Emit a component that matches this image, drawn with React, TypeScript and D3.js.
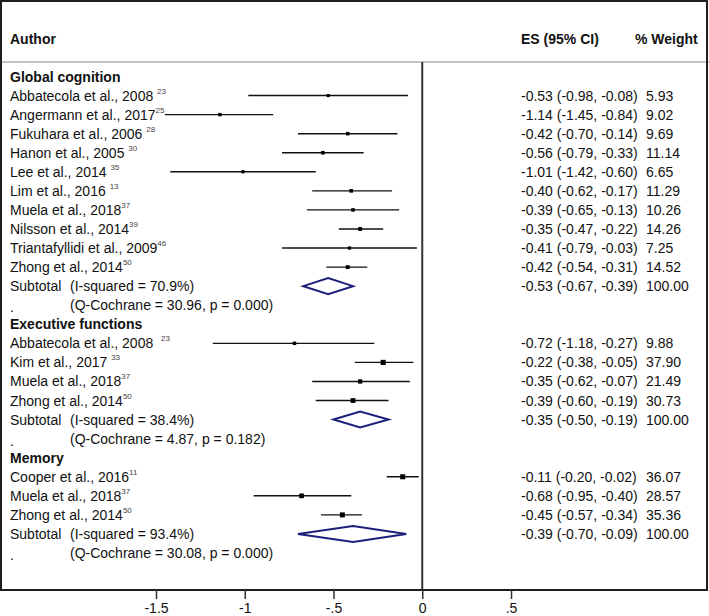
import * as d3 from 'd3';
import React, { useRef, useEffect } from 'react';

// study rows per subgroup: label, reference, separator before reference, ES, CI, weight
const globalStudies = [
  { author: 'Abbatecola et al., 2008', sep: ' ', ref: '23', es: -0.53, lo: -0.98, hi: -0.08, w: 5.93 },
  { author: 'Angermann et al., 2017', sep: '', ref: '25', es: -1.14, lo: -1.45, hi: -0.84, w: 9.02 },
  { author: 'Fukuhara et al., 2006', sep: ' ', ref: '28', es: -0.42, lo: -0.70, hi: -0.14, w: 9.69 },
  { author: 'Hanon et al., 2005', sep: ' ', ref: '30', es: -0.56, lo: -0.79, hi: -0.33, w: 11.14 },
  { author: 'Lee et al., 2014', sep: ' ', ref: '35', es: -1.01, lo: -1.42, hi: -0.60, w: 6.65 },
  { author: 'Lim et al., 2016', sep: ' ', ref: '13', es: -0.40, lo: -0.62, hi: -0.17, w: 11.29 },
  { author: 'Muela et al., 2018', sep: '', ref: '37', es: -0.39, lo: -0.65, hi: -0.13, w: 10.26 },
  { author: 'Nilsson et al., 2014', sep: '', ref: '39', es: -0.35, lo: -0.47, hi: -0.22, w: 14.26 },
  { author: 'Triantafyllidi et al., 2009', sep: '', ref: '46', es: -0.41, lo: -0.79, hi: -0.03, w: 7.25 },
  { author: 'Zhong et al., 2014', sep: '', ref: '50', es: -0.42, lo: -0.54, hi: -0.31, w: 14.52 },
];

const executiveStudies = [
  { author: 'Abbatecola et al., 2008', sep: '  ', ref: '23', es: -0.72, lo: -1.18, hi: -0.27, w: 9.88 },
  { author: 'Kim et al., 2017', sep: ' ', ref: '33', es: -0.22, lo: -0.38, hi: -0.05, w: 37.90 },
  { author: 'Muela et al., 2018', sep: '', ref: '37', es: -0.35, lo: -0.62, hi: -0.07, w: 21.49 },
  { author: 'Zhong et al., 2014', sep: '', ref: '50', es: -0.39, lo: -0.60, hi: -0.19, w: 30.73 },
];

const memoryStudies = [
  { author: 'Cooper et al., 2016', sep: '', ref: '11', es: -0.11, lo: -0.20, hi: -0.02, w: 36.07 },
  { author: 'Muela et al., 2018', sep: '', ref: '37', es: -0.68, lo: -0.95, hi: -0.40, w: 28.57 },
  { author: 'Zhong et al., 2014', sep: '', ref: '50', es: -0.45, lo: -0.57, hi: -0.34, w: 35.36 },
];

const groupNames = ['Global cognition', 'Executive functions', 'Memory'];
const groupStudies = [globalStudies, executiveStudies, memoryStudies];
const subtotalES = [-0.53, -0.35, -0.39];
const subtotalLo = [-0.67, -0.50, -0.70];
const subtotalHi = [-0.39, -0.19, -0.09];
const iSquared = ['70.9', '38.4', '93.4'];
const qCochrane = ['30.96', '4.87', '30.08'];
const pValues = ['0.000', '0.182', '0.000'];

const tickValues = [-1.5, -1, -0.5, 0, 0.5];
const tickLabels = ['-1.5', '-1', '-.5', '0', '.5'];

const width = 709;
const height = 616;
const font = '"Liberation Sans", Arial, Helvetica, sans-serif';

const ForestPlot = () => {
  const ref = useRef(null);

  useEffect(() => {
    const svg = d3.select(ref.current);
    svg.selectAll('*').remove();

    // flatten into rows
    const rows: any[] = [];
    groupNames.forEach((g, gi) => {
      rows.push({ type: 'group', label: g });
      groupStudies[gi].forEach((s) => rows.push({ type: 'study', ...s }));
      rows.push({
        type: 'subtotal', es: subtotalES[gi], lo: subtotalLo[gi], hi: subtotalHi[gi],
        i2: iSquared[gi], w: 100,
      });
      rows.push({ type: 'q', q: qCochrane[gi], p: pValues[gi] });
    });

    const x = d3.scaleLinear().domain([-1.5, 0.5]).range([156, 511]);
    const y = d3.scalePoint().domain(d3.range(rows.length)).range([76.5, 553]);
    const boxSize = d3.scaleSqrt().domain([5, 40]).range([3, 5.2]);

    const plotBottom = 590;

    // header separator
    svg.append('line')
      .attr('x1', 0).attr('x2', width)
      .attr('y1', 62).attr('y2', 62)
      .attr('stroke', '#c4c4c4').attr('stroke-width', 2);

    // zero line
    svg.append('line')
      .attr('x1', x(0)).attr('x2', x(0))
      .attr('y1', 62).attr('y2', plotBottom)
      .attr('stroke', '#333').attr('stroke-width', 2);

    // frame
    svg.append('rect')
      .attr('x', 1).attr('y', 1)
      .attr('width', width - 3).attr('height', plotBottom - 1)
      .attr('fill', 'none')
      .attr('stroke', '#1e1e1e').attr('stroke-width', 2);

    const text = svg.append('g')
      .attr('font-family', font)
      .attr('font-size', 14)
      .attr('fill', '#111');

    // headers
    const header = text.append('g').attr('font-weight', 'bold');
    header.append('text').attr('x', 10).attr('y', 39).attr('dominant-baseline', 'central').text('Author');
    header.append('text').attr('x', 521).attr('y', 39).attr('dominant-baseline', 'central').text('ES (95% CI)');
    header.append('text').attr('x', 635).attr('y', 39).attr('dominant-baseline', 'central').text('% Weight');

    const fmt = (v) => v.toFixed(2);

    rows.forEach((r, i) => {
      const yy = y(i);
      if (r.type === 'group') {
        text.append('text').attr('x', 10).attr('y', yy)
          .attr('dominant-baseline', 'central')
          .attr('font-weight', 'bold').text(r.label);
      } else if (r.type === 'study') {
        const t = text.append('text').attr('x', 10).attr('y', yy)
          .attr('dominant-baseline', 'central')
          .attr('xml:space', 'preserve')
          .style('white-space', 'pre');
        t.append('tspan').text(r.author + r.sep);
        t.append('tspan').attr('dy', -5).attr('font-size', 8).attr('fill', '#444').text(r.ref);

        svg.append('line')
          .attr('x1', x(r.lo)).attr('x2', x(r.hi))
          .attr('y1', yy).attr('y2', yy)
          .attr('stroke', '#111').attr('stroke-width', 1.4);
        const s = boxSize(r.w);
        svg.append('rect')
          .attr('x', x(r.es) - s / 2).attr('y', yy - s / 2)
          .attr('width', s).attr('height', s)
          .attr('fill', '#000');
      } else if (r.type === 'subtotal') {
        text.append('text').attr('x', 10).attr('y', yy).attr('dominant-baseline', 'central').text('Subtotal');
        text.append('text').attr('x', 70).attr('y', yy).attr('dominant-baseline', 'central')
          .text(`(I-squared = ${r.i2}%)`);
        const h = 8;
        svg.append('path')
          .attr('d', `M${x(r.lo)},${yy}L${x(r.es)},${yy - h}L${x(r.hi)},${yy}L${x(r.es)},${yy + h}Z`)
          .attr('fill', 'none')
          .attr('stroke', '#1b1f7a')
          .attr('stroke-width', 2);
      } else if (r.type === 'q') {
        text.append('text').attr('x', 10).attr('y', yy + 2).attr('dominant-baseline', 'central').text('.');
        text.append('text').attr('x', 70).attr('y', yy).attr('dominant-baseline', 'central')
          .text(`(Q-Cochrane = ${r.q}, p = ${r.p})`);
      }

      if (r.type === 'study' || r.type === 'subtotal') {
        text.append('text').attr('x', 521).attr('y', yy).attr('dominant-baseline', 'central')
          .text(`${fmt(r.es)} (${fmt(r.lo)}, ${fmt(r.hi)})`);
        text.append('text').attr('x', 646).attr('y', yy).attr('dominant-baseline', 'central')
          .text(fmt(r.w));
      }
    });

    // x axis
    const axis = d3.axisBottom(x)
      .tickValues(tickValues)
      .tickFormat((d, i) => tickLabels[i])
      .tickSize(9)
      .tickPadding(4);

    const ax = svg.append('g')
      .attr('transform', `translate(0,${plotBottom})`)
      .call(axis);
    ax.select('.domain').remove();
    ax.selectAll('line').attr('stroke', '#333').attr('stroke-width', 1.5);
    ax.selectAll('text')
      .attr('font-family', font)
      .attr('font-size', 14)
      .attr('fill', '#111');
  }, []);

  return (
    <svg
      ref={ref}
      width={width}
      height={height}
      style={{ position: 'absolute', left: 0, top: 0, background: '#fff', display: 'block' }}
    />
  );
};

export default function App() {
  return <ForestPlot />;
}
